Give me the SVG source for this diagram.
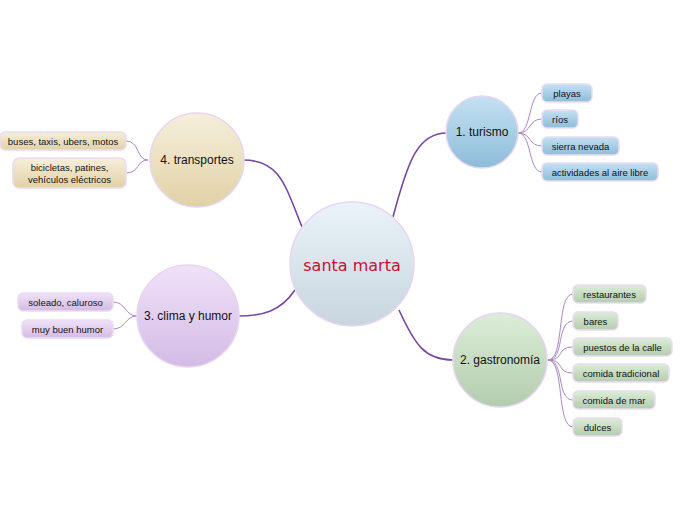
<svg xmlns="http://www.w3.org/2000/svg" width="696" height="520" viewBox="0 0 696 520">
<defs>
<linearGradient id="gC" x1="0" y1="0" x2="0" y2="1"><stop offset="0" stop-color="#EAF3F9"/><stop offset="1" stop-color="#C8D5DF"/></linearGradient>
<linearGradient id="gB" x1="0" y1="0" x2="0" y2="1"><stop offset="0" stop-color="#C4E1F3"/><stop offset="1" stop-color="#8EBCD9"/></linearGradient>
<linearGradient id="gG" x1="0" y1="0" x2="0" y2="1"><stop offset="0" stop-color="#DCEDD8"/><stop offset="1" stop-color="#B3CCAE"/></linearGradient>
<linearGradient id="gT" x1="0" y1="0" x2="0" y2="1"><stop offset="0" stop-color="#F6EFDC"/><stop offset="1" stop-color="#E2D1A6"/></linearGradient>
<linearGradient id="gP" x1="0" y1="0" x2="0" y2="1"><stop offset="0" stop-color="#F0E2F9"/><stop offset="1" stop-color="#D3BBE5"/></linearGradient>
</defs>
<style>
.main{fill:none;stroke:#7645A6;stroke-width:1.6}
.sub{fill:none;stroke:#A987C8;stroke-width:1}
.circ{stroke:#E6D6F1;stroke-width:1.5}
.leaf{stroke:#EADCF4;stroke-width:1.5}
.bt{font-family:"Liberation Sans",Arial,sans-serif;font-size:12px;fill:#111;text-anchor:middle;dominant-baseline:central}
.lt{font-family:"Liberation Sans",Arial,sans-serif;font-size:9.5px;fill:#111;text-anchor:middle;dominant-baseline:central}
.ct{font-family:"DejaVu Sans",Verdana,sans-serif;font-size:16px;fill:#C8102E;text-anchor:middle;dominant-baseline:central}
</style>
<g id="connectors">
<path class="main" d="M393 217 C408 160,418 133,447 133"/>
<path class="main" d="M399 310 C415 345,425 360,453 360"/>
<path class="main" d="M302 227 C285 185,280 160,243 160"/>
<path class="main" d="M295 290 C280 312,262 316,238 316"/>
<path class="sub" d="M518 133 C532 133,528 93,542 93"/>
<path class="sub" d="M518 133 C532 133,528 119,542 119"/>
<path class="sub" d="M518 133 C532 133,528 146,542 146"/>
<path class="sub" d="M518 133 C532 133,528 172,542 172"/>
<path class="sub" d="M548 360 C565 360,556 294,573 294"/>
<path class="sub" d="M548 360 C565 360,556 321,573 321"/>
<path class="sub" d="M548 360 C565 360,556 347,573 347"/>
<path class="sub" d="M548 360 C565 360,556 373,573 373"/>
<path class="sub" d="M548 360 C565 360,556 400,573 400"/>
<path class="sub" d="M548 360 C565 360,556 427,573 427"/>
<path class="sub" d="M148 160 C136 160,140 141,126 141"/>
<path class="sub" d="M148 160 C136 160,140 173,126 173"/>
<path class="sub" d="M137 316 C125 316,126 302,113 302"/>
<path class="sub" d="M137 316 C125 316,126 329,113 329"/>
</g>
<g id="center"><circle class="circ" cx="352" cy="264" r="62" fill="url(#gC)"/><text class="ct" x="352" y="265">santa marta</text></g>
<g id="turismo"><circle class="circ" cx="482" cy="132" r="36" fill="url(#gB)"/><text class="bt" x="482" y="132">1. turismo</text></g>
<g id="gastronomia"><circle class="circ" cx="500" cy="360" r="47" fill="url(#gG)"/><text class="bt" x="500" y="360">2. gastronomía</text></g>
<g id="transportes"><circle class="circ" cx="197" cy="160" r="47" fill="url(#gT)"/><text class="bt" x="197" y="160">4. transportes</text></g>
<g id="clima"><circle class="circ" cx="188" cy="316" r="51" fill="url(#gP)"/><text class="bt" x="188" y="316">3. clima y humor</text></g>
<g id="playas"><rect class="leaf" x="542" y="84" width="50" height="18" rx="5" fill="url(#gB)"/><text class="lt" x="567" y="93">playas</text></g>
<g id="rios"><rect class="leaf" x="542" y="110" width="36" height="18" rx="5" fill="url(#gB)"/><text class="lt" x="560" y="119">ríos</text></g>
<g id="sierra"><rect class="leaf" x="542" y="137" width="77" height="18" rx="5" fill="url(#gB)"/><text class="lt" x="580.5" y="146">sierra nevada</text></g>
<g id="actividades"><rect class="leaf" x="542" y="163" width="116" height="18" rx="5" fill="url(#gB)"/><text class="lt" x="600" y="172">actividades al aire libre</text></g>
<g id="restaurantes"><rect class="leaf" x="573" y="285" width="73" height="18" rx="5" fill="url(#gG)"/><text class="lt" x="609.5" y="294">restaurantes</text></g>
<g id="bares"><rect class="leaf" x="573" y="312" width="45" height="18" rx="5" fill="url(#gG)"/><text class="lt" x="595.5" y="321">bares</text></g>
<g id="puestos"><rect class="leaf" x="573" y="338" width="99" height="18" rx="5" fill="url(#gG)"/><text class="lt" x="622.5" y="347">puestos de la calle</text></g>
<g id="tradicional"><rect class="leaf" x="573" y="364" width="96" height="18" rx="5" fill="url(#gG)"/><text class="lt" x="621" y="373">comida tradicional</text></g>
<g id="mar"><rect class="leaf" x="573" y="391" width="82" height="18" rx="5" fill="url(#gG)"/><text class="lt" x="614" y="400">comida de mar</text></g>
<g id="dulces"><rect class="leaf" x="573" y="418" width="49" height="18" rx="5" fill="url(#gG)"/><text class="lt" x="597.5" y="427">dulces</text></g>
<g id="buses"><rect class="leaf" x="0" y="132" width="126" height="18" rx="5" fill="url(#gT)"/><text class="lt" x="63" y="141">buses, taxis, ubers, motos</text></g>
<g id="bicicletas"><rect class="leaf" x="13" y="158" width="113" height="30" rx="6" fill="url(#gT)"/><text class="lt" x="69.5" y="167">bicicletas, patines,</text><text class="lt" x="69.5" y="179">vehículos eléctricos</text></g>
<g id="soleado"><rect class="leaf" x="18" y="293" width="95" height="18" rx="5" fill="url(#gP)"/><text class="lt" x="65.5" y="302">soleado, caluroso</text></g>
<g id="humor"><rect class="leaf" x="22" y="320" width="91" height="18" rx="5" fill="url(#gP)"/><text class="lt" x="67.5" y="329">muy buen humor</text></g>
</svg>
